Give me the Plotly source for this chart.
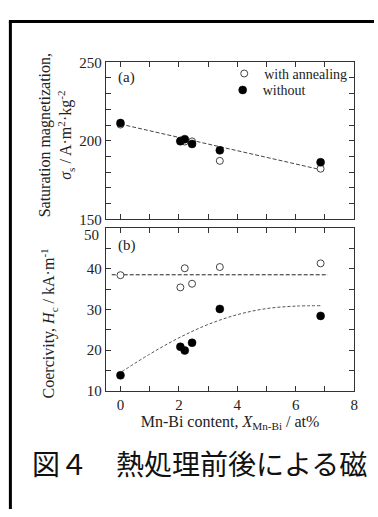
import plotly.graph_objects as go

# ---------------- data ----------------
x_content = [0.0, 2.05, 2.2, 2.45, 3.4, 6.85]
ms_with = [210.3, 200.2, 199.5, 199.6, 187.2, 182.2]
ms_without = [211.3, 199.7, 201.0, 198.0, 193.9, 186.3]
hc_with = [38.4, 35.4, 40.1, 36.3, 40.4, 41.3]
hc_without = [13.8, 20.8, 19.9, 21.8, 30.1, 28.4]

fit_ms_x = [0.0, 6.85]
fit_ms_y = [210.6, 181.6]
fit_hcw_x = [-0.3, 7.1]
fit_hcw_y = [38.5, 38.5]
fit_hcwo_x = [0.05, 1.0, 2.0, 3.0, 4.0, 5.0, 6.0, 6.85]
fit_hcwo_y = [14.7, 19.0, 23.0, 26.3, 28.7, 30.2, 30.8, 30.9]

ms_ticks = [150, 200, 250]
hc_ticks = [10, 20, 30, 40]
hc_top_tick = 50
x_ticks = [0, 2, 4, 6, 8]

W, H = 378, 517
SERIF = "Liberation Serif, Times New Roman, serif"
AX = "#333333"
TXT = "#222222"


def px(v):
    return v / W


def py(v):
    return 1 - v / H


fig = go.Figure()

open_marker = dict(symbol="circle", size=7, color="white", line=dict(color="#444444", width=1))
fill_marker = dict(symbol="circle", size=8, color="black", line=dict(color="black", width=0.5))
dash_line = dict(color="#444444", width=1, dash="4px,2px")

# panel (a)
fig.add_trace(go.Scatter(x=fit_ms_x, y=fit_ms_y, mode="lines", line=dash_line,
                         xaxis="x2", yaxis="y2", showlegend=False, hoverinfo="skip"))
fig.add_trace(go.Scatter(x=x_content, y=ms_with, mode="markers", marker=open_marker,
                         xaxis="x2", yaxis="y2", name="with annealing", legend="legend"))
fig.add_trace(go.Scatter(x=x_content, y=ms_without, mode="markers", marker=fill_marker,
                         xaxis="x2", yaxis="y2", name="without", legend="legend2"))

# panel (b)
fig.add_trace(go.Scatter(x=fit_hcw_x, y=fit_hcw_y, mode="lines",
                         line=dict(color="#222222", width=1, dash="4px,2px"),
                         xaxis="x", yaxis="y", showlegend=False, hoverinfo="skip"))
fig.add_trace(go.Scatter(x=fit_hcwo_x, y=fit_hcwo_y, mode="lines",
                         line=dict(color="#555555", width=1, dash="3px,2px", shape="spline"),
                         xaxis="x", yaxis="y", showlegend=False, hoverinfo="skip"))
fig.add_trace(go.Scatter(x=x_content, y=hc_with, mode="markers", marker=open_marker,
                         xaxis="x", yaxis="y", showlegend=False))
fig.add_trace(go.Scatter(x=x_content, y=hc_without, mode="markers", marker=fill_marker,
                         xaxis="x", yaxis="y", showlegend=False))

tick_font = dict(family=SERIF, size=15, color=TXT)
minor_t = dict(ticks="inside", ticklen=5, tickcolor=AX, tickwidth=1, showgrid=False)
xdom = [px(107), px(358)]
common_x = dict(range=[-0.5, 8], domain=xdom, showgrid=False, zeroline=False,
                showline=True, linecolor=AX, linewidth=1, mirror="allticks",
                ticks="inside", ticklen=5, tickcolor=AX, tickwidth=1,
                tickvals=x_ticks, minor=dict(dtick=1, **minor_t), tickfont=tick_font)
common_y = dict(showgrid=False, zeroline=False, showline=True, linecolor=AX, linewidth=1,
                mirror="allticks", ticks="inside", ticklen=5, tickcolor=AX, tickwidth=1,
                tickfont=tick_font)

leg_common = dict(xanchor="right", yanchor="middle", bgcolor="rgba(0,0,0,0)",
                  font=dict(family=SERIF, size=14, color=TXT), itemwidth=30)

fig.update_layout(
    width=W, height=H,
    margin=dict(l=0, r=0, t=0, b=0),
    paper_bgcolor="white", plot_bgcolor="white",
    xaxis=dict(**common_x, anchor="y", showticklabels=True,
               title=dict(text="Mn-Bi content, <i>X</i><sub>Mn-Bi</sub> / at%",
                          font=dict(family=SERIF, size=16, color=TXT), standoff=0)),
    xaxis2=dict(**common_x, anchor="y2", matches="x", showticklabels=False),
    yaxis=dict(**common_y, anchor="x", domain=[py(395), py(227)], range=[10, 50],
               tickvals=hc_ticks, minor=dict(dtick=5, **minor_t)),
    yaxis2=dict(**common_y, anchor="x2", domain=[py(218), py(56)], range=[150, 250],
                tickvals=ms_ticks, minor=dict(dtick=10, **minor_t)),
    legend=dict(x=px(356), y=py(68), **leg_common),
    legend2=dict(x=px(314), y=py(85), **leg_common),
    showlegend=True,
)

ann_font = dict(family=SERIF, size=15, color=TXT)
# top tick label of panel (b), nudged below the 150 label of panel (a)
fig.add_annotation(text=str(hc_top_tick), x=px(102), y=py(234), xref="paper", yref="paper",
                   xanchor="right", yanchor="middle", showarrow=False, font=tick_font)
fig.add_annotation(text="(a)", x=px(117), y=py(72), xref="paper", yref="paper",
                   xanchor="left", yanchor="middle", showarrow=False, font=ann_font)
fig.add_annotation(text="(b)", x=px(117), y=py(245), xref="paper", yref="paper",
                   xanchor="left", yanchor="middle", showarrow=False, font=ann_font)
title_font = dict(family=SERIF, size=16, color=TXT)
fig.add_annotation(text="Saturation magnetization,<br><i>σ</i><sub>s</sub> / A·m<sup>2</sup>·kg<sup>-2</sup>",
                   x=px(57), y=py(131), xref="paper", yref="paper", textangle=-90,
                   xanchor="center", yanchor="middle", showarrow=False, font=title_font)
fig.add_annotation(text="Coercivity, <i>H</i><sub>c</sub> / kA·m<sup>-1</sup>",
                   x=px(49), y=py(325), xref="paper", yref="paper", textangle=-90,
                   xanchor="center", yanchor="middle", showarrow=False, font=title_font)
fig.add_annotation(text="図４　熱処理前後による磁", x=px(30), y=py(470), xref="paper", yref="paper",
                   xanchor="left", yanchor="middle", showarrow=False,
                   font=dict(family="Noto Sans CJK JP", size=28, color="#111"))

# outer frame (left and top edges)
fig.add_shape(type="line", xref="paper", yref="paper", x0=px(10.5), x1=px(10.5), y0=0, y1=py(14),
              line=dict(color="black", width=3))
fig.add_shape(type="line", xref="paper", yref="paper", x0=px(9), x1=1.0, y0=py(14), y1=py(14),
              line=dict(color="black", width=3))

fig.write_html("out.html",
               config={"displayModeBar": False},
               post_script="document.body.style.margin='0';document.body.style.overflow='hidden';")
